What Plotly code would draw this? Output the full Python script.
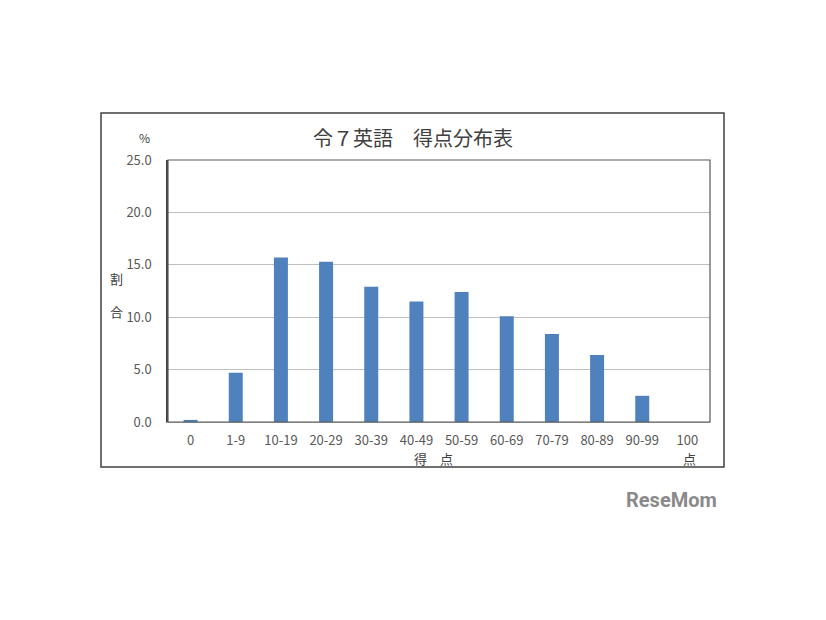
import plotly.graph_objects as go

categories = ["0", "1-9", "10-19", "20-29", "30-39", "40-49", "50-59",
              "60-69", "70-79", "80-89", "90-99", "100"]
percent = [0.2, 4.7, 15.7, 15.3, 12.9, 11.5, 12.4, 10.1, 8.4, 6.4, 2.5, 0.0]
y_ticks = [0, 5, 10, 15, 20, 25]
y_tick_labels = ["0.0", "5.0", "10.0", "15.0", "20.0", "25.0"]

W, H = 826, 620
OFF = 8  # browser body margin
L, R, T, B = 168, 710, 160, 422
FONT = "Noto Sans CJK JP"
GRAY = "#595959"


def px(x):
    return (x - L) / (R - L)


def py(y):
    return (B - y) / (B - T)


fig = go.Figure(go.Bar(
    x=categories, y=percent,
    marker=dict(color="#4F81BD", line=dict(width=0)),
    hoverinfo="x+y",
))

annotations = [
    dict(text="令７英語　得点分布表", x=px(413), y=py(137),
         font=dict(size=20, color="#404040")),
    dict(text="%", x=px(144), y=py(137), font=dict(size=12, color="#404040")),
    dict(text="割", x=px(116), y=py(278), font=dict(size=13, color="#404040")),
    dict(text="合", x=px(116), y=py(311), font=dict(size=13, color="#404040")),
    dict(text="得　点", x=px(433), y=py(458), font=dict(size=13, color="#404040")),
    dict(text="点", x=px(689), y=py(458), font=dict(size=13, color="#404040")),
    dict(text="<b>ReseMom</b>", x=px(671), y=py(500),
         font=dict(size=20, color="#8a8a8a", family="Roboto")),
]
for a in annotations:
    a.update(xref="paper", yref="paper", showarrow=False,
             xanchor="center", yanchor="middle")
    a["font"].setdefault("family", FONT)

fig.update_layout(
    width=W, height=H,
    margin=dict(l=L - OFF, r=W - R + OFF, t=T - OFF, b=H - B + OFF, pad=0),
    paper_bgcolor="white", plot_bgcolor="white",
    showlegend=False,
    bargap=0.69,
    font=dict(family=FONT, color=GRAY, size=12),
    xaxis=dict(
        type="category", showgrid=False, ticks="", showline=True,
        linecolor="#A6A6A6", linewidth=1, mirror=False,
        tickfont=dict(size=13, color=GRAY), ticklabelstandoff=6,
    ),
    yaxis=dict(
        range=[0, 25], tickvals=y_ticks, ticktext=y_tick_labels,
        showgrid=True, gridcolor="#BFBFBF", gridwidth=1,
        zeroline=False, ticks="", showline=True, linecolor="#404040",
        linewidth=1.5, tickfont=dict(size=13, color=GRAY),
        ticklabelstandoff=12,
    ),
    annotations=annotations,
    shapes=[
        dict(type="rect", xref="paper", yref="paper",
             x0=px(101), x1=px(724), y0=py(467), y1=py(113),
             line=dict(color="#404040", width=1.5)),
        dict(type="rect", xref="paper", yref="paper",
             x0=0, x1=1, y0=0, y1=1,
             line=dict(color="#595959", width=1.2)),
    ],
)

fig.write_html("out.html")
